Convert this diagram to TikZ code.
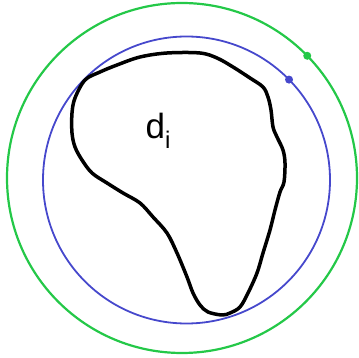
\documentclass[tikz,border=0pt]{standalone}
\usepackage{fontspec}
\setmainfont{Liberation Sans}
\usetikzlibrary{calc}
\definecolor{ringgreen}{RGB}{36,200,72}
\definecolor{ringblue}{RGB}{70,72,204}

\begin{document}
\begin{tikzpicture}[x=1pt, y=-1pt,
    outer/.style={draw=ringgreen, line width=2.2pt},
    inner/.style={draw=ringblue, line width=1.8pt},
    blob/.style={draw=black, line width=3.5pt, line join=round},
    label/.style={font=\fontsize{35}{38}\selectfont, inner sep=0pt}
]
    \useasboundingbox (0,0) rectangle (359,358);
    % Circles
    \coordinate (gc) at (182,178);
    \coordinate (bc) at (186.5,180);
    \draw[outer] (gc) circle[radius=175pt];
    \draw[inner] (bc) circle[radius=143.5pt];

    % Points on the circles
    \fill[ringgreen] ($(gc)+(44.3:175pt)$) circle[radius=4pt];
    \fill[ringblue] ($(bc)+(44.4:143.5pt)$) circle[radius=4pt];

    % Region
    \draw[blob] plot[smooth cycle, tension=0.55] coordinates {
        (85,80) (100,72) (117,65) (140,57) (167,53) (200,53) (217,58)
        (233,67) (250,78) (263,87) (268,97) (271,110) (273,127) (277,137)
        (283,150) (285,163) (284,182) (280,192) (275,210) (270,230)
        (263,253) (257,273) (248,293) (240,307) (230,313) (222,315)
        (208,312) (200,305) (193,293) (187,277) (177,253) (167,233)
        (153,217) (140,203) (123,193) (107,183) (92,173) (82,160)
        (75,147) (72,133) (72,113) (75,98)};

    % Label
    \node[label] (di) at (158,131) {d\raisebox{-0.28em}{\fontsize{24}{26}\selectfont i}};
\end{tikzpicture}
\end{document}
